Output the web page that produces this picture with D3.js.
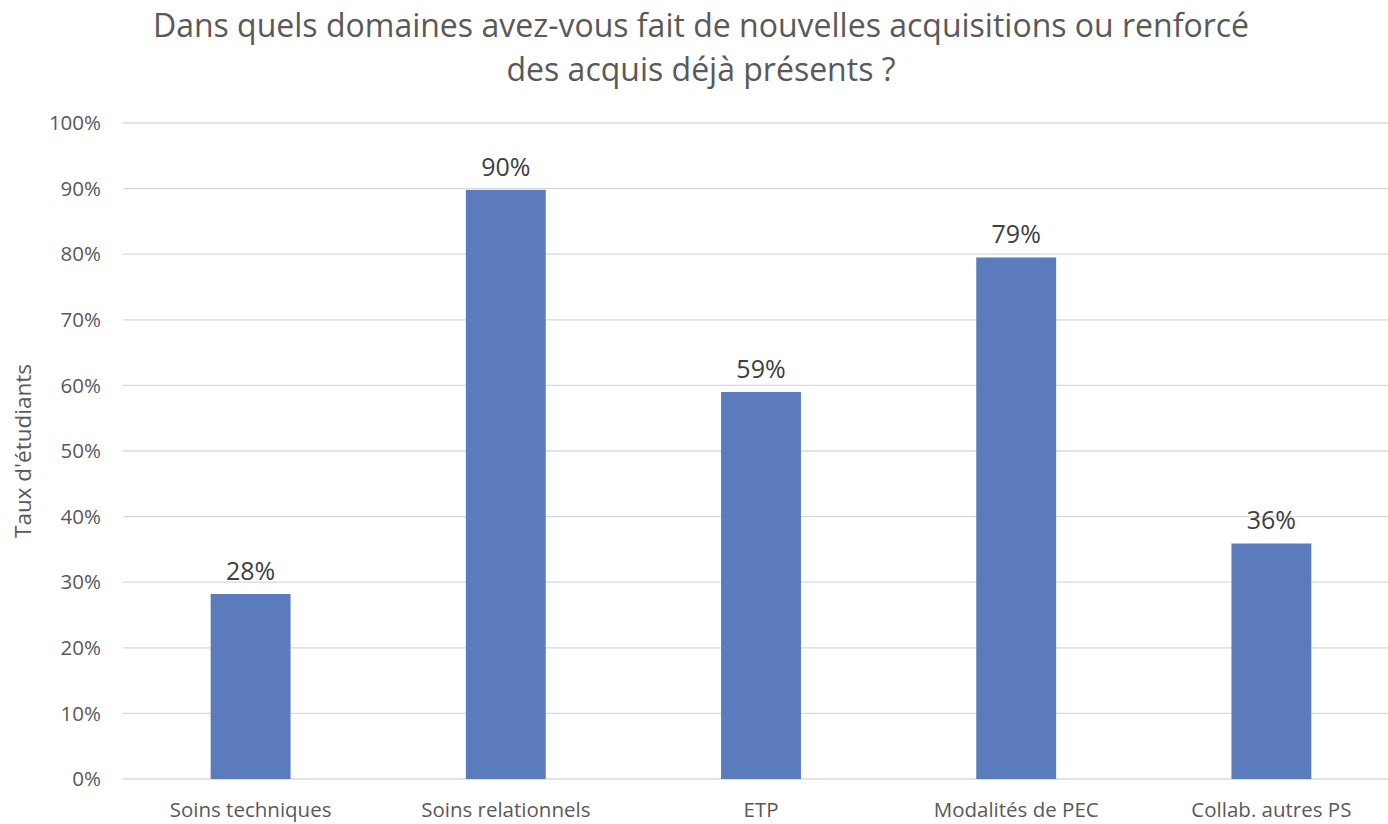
<!DOCTYPE html>
<html>
<head>
<meta charset="utf-8">
<script src="https://cdn.jsdelivr.net/npm/d3@7"></script>
<style>
  body { margin: 0; background: #fff; }
  text { font-family: "Open Sans", Lato, sans-serif; }
</style>
</head>
<body>
<svg id="chart"></svg>
<script>
// Data
const categories = ["Soins techniques", "Soins relationnels", "ETP", "Modalités de PEC", "Collab. autres PS"];
const values = [28.2, 89.8, 59.0, 79.5, 35.9];
const labels = ["28%", "90%", "59%", "79%", "36%"];
const yTicks = [0, 10, 20, 30, 40, 50, 60, 70, 80, 90, 100];
const titleLines = ["Dans quels domaines avez-vous fait de nouvelles acquisitions ou renforcé", "des acquis déjà présents ?"];

const width = 1388;
const height = 824;

const svg = d3.select("#chart").attr("width", width).attr("height", height);

// Scales
const x = d3.scaleBand()
  .domain(categories)
  .range([123, 1399])
  .paddingInner(0.687)
  .paddingOuter(0.3435);

const y = d3.scaleLinear().domain([0, 100]).range([779, 123]);

// Gridlines
svg.append("g")
  .selectAll("line")
  .data(yTicks)
  .enter()
  .append("line")
  .attr("x1", 123)
  .attr("x2", width)
  .attr("y1", d => y(d))
  .attr("y2", d => y(d))
  .attr("stroke", "#d9d9d9")
  .attr("stroke-width", 1.3);

// Y tick labels
svg.append("g")
  .selectAll("text")
  .data(yTicks)
  .enter()
  .append("text")
  .attr("x", 101)
  .attr("y", d => y(d))
  .attr("dy", "0.35em")
  .attr("text-anchor", "end")
  .style("font-size", "20.5px")
  .style("fill", "#595959")
  .text(d => d + "%");

// Bars
svg.append("g")
  .selectAll("rect")
  .data(categories)
  .enter()
  .append("rect")
  .attr("x", d => x(d))
  .attr("width", x.bandwidth())
  .attr("y", (d, i) => y(values[i]))
  .attr("height", (d, i) => y(0) - y(values[i]))
  .attr("fill", "#5b7bbd");

// Data labels
svg.append("g")
  .selectAll("text")
  .data(categories)
  .enter()
  .append("text")
  .attr("x", d => x(d) + x.bandwidth() / 2)
  .attr("y", (d, i) => y(values[i]) - 14)
  .attr("text-anchor", "middle")
  .style("font-size", "25px")
  .style("fill", "#404040")
  .text((d, i) => labels[i]);

// Category labels
svg.append("g")
  .selectAll("text")
  .data(categories)
  .enter()
  .append("text")
  .attr("x", d => x(d) + x.bandwidth() / 2)
  .attr("y", 817)
  .attr("text-anchor", "middle")
  .style("font-size", "20.5px")
  .style("fill", "#595959")
  .text(d => d);

// Y axis title
svg.append("text")
  .attr("transform", "translate(31, 451) rotate(-90)")
  .attr("text-anchor", "middle")
  .style("font-size", "22.5px")
  .style("fill", "#595959")
  .text("Taux d'étudiants");

// Title
svg.append("g")
  .selectAll("text")
  .data(titleLines)
  .enter()
  .append("text")
  .attr("x", 701)
  .attr("y", (d, i) => 37 + i * 44)
  .attr("text-anchor", "middle")
  .style("font-size", "32px")
  .style("fill", "#595959")
  .text(d => d);
</script>
</body>
</html>
